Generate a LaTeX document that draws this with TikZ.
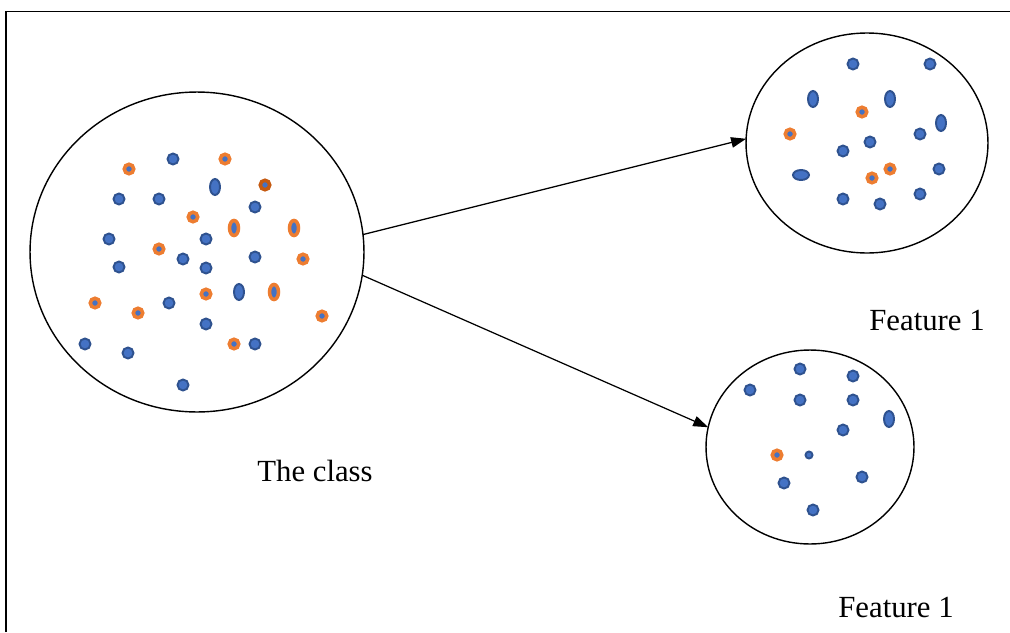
\documentclass[tikz,border=0pt]{standalone}
\usepackage{fontspec}
\setmainfont{Liberation Serif}
\usetikzlibrary{arrows.meta,shapes.geometric,positioning}
\definecolor{dotblue}{HTML}{4472C4}
\definecolor{dotedge}{HTML}{2F528F}
\definecolor{dotorange}{HTML}{ED7D31}
\definecolor{dotbrown}{HTML}{C55A11}
\tikzset{
  bag/.style    = { draw, ellipse, line width=0.8pt, inner sep=0pt, outer sep=0pt },
  dot/.style    = { circle, draw=dotedge, fill=dotblue, line width=1.1pt, inner sep=0pt, minimum size=0.22cm },
  vdot/.style   = { dot, ellipse, minimum width=0.2cm, minimum height=0.32cm },
  hdot/.style   = { dot, ellipse, minimum width=0.32cm, minimum height=0.2cm },
  odot/.style   = { circle, draw=dotorange, fill=dotblue, line width=2pt, inner sep=0pt, minimum size=0.19cm },
  ovdot/.style  = { odot, ellipse, minimum width=0.18cm, minimum height=0.3cm },
  lbl/.style    = { font=\fontsize{17.5}{20}\selectfont, inner sep=0pt }
}

\begin{document}
\begin{tikzpicture}[x=0.02cm,y=-0.02cm]
    \useasboundingbox (0,0) rectangle (1010,632);
    % frame
    \draw[line width=0.9pt] (6,632) -- (6,11.5) -- (1010,11.5);

    % the three sets
    \node[bag, minimum width=6.68cm, minimum height=6.4cm] (cls) at (197,252) {};
    \node[bag, minimum width=4.84cm, minimum height=4.4cm] (fa) at (867,143) {};
    \node[bag, minimum width=4.16cm, minimum height=3.88cm] (fb) at (810,447) {};

    \draw[-{Triangle[length=0.3cm,width=0.21cm]}, line width=0.7pt] (cls.6) -- (fa.178);
    \draw[-{Triangle[length=0.3cm,width=0.21cm]}, line width=0.7pt] (cls.-8) -- (fb.169);

    \node[lbl] (lcls) at (315,471) {The class};
    \node[lbl] (lfa)  at (927,320) {Feature 1};
    \node[lbl] (lfb)  at (896,607) {Feature 1};

    % points of the class
    \foreach \x/\y [count=\i] in {173/159,119/199,159/199,255/207,109/239,206/239,
        119/267,183/259,206/268,255/257,169/303,206/324,85/344,128/353,255/344,183/385}
      \node[dot] (c\i) at (\x,\y) {};
    \node[vdot] (cv1) at (215,187) {};
    \node[vdot] (cv2) at (239,292) {};
    \foreach \x/\y [count=\i] in {129/169,225/159,193/217,159/249,303/259,
        206/294,95/303,138/313,322/316,234/344}
      \node[odot] (co\i) at (\x,\y) {};
    \node[odot, draw=dotbrown] (cob) at (265,185) {};
    \foreach \x/\y [count=\i] in {234/228,294/228,274/292}
      \node[ovdot] (cov\i) at (\x,\y) {};

    % points of the upper feature
    \foreach \x/\y [count=\i] in {853/64,930/64,920/134,870/142,843/151,
        939/169,843/199,880/204,920/194}
      \node[dot] (a\i) at (\x,\y) {};
    \foreach \x/\y [count=\i] in {813/99,890/99,941/123}
      \node[vdot] (av\i) at (\x,\y) {};
    \node[hdot] (ah) at (801,175) {};
    \foreach \x/\y [count=\i] in {862/112,790/134,890/169,872/178}
      \node[odot] (ao\i) at (\x,\y) {};

    % points of the lower feature
    \foreach \x/\y [count=\i] in {800/369,853/376,750/390,800/400,853/400,
        843/430,784/483,862/477,813/510}
      \node[dot] (b\i) at (\x,\y) {};
    \node[dot, minimum size=0.14cm] (bs) at (809,455) {};
    \node[vdot] (bv) at (889,419) {};
    \node[odot] (bo) at (777,455) {};
\end{tikzpicture}
\end{document}
